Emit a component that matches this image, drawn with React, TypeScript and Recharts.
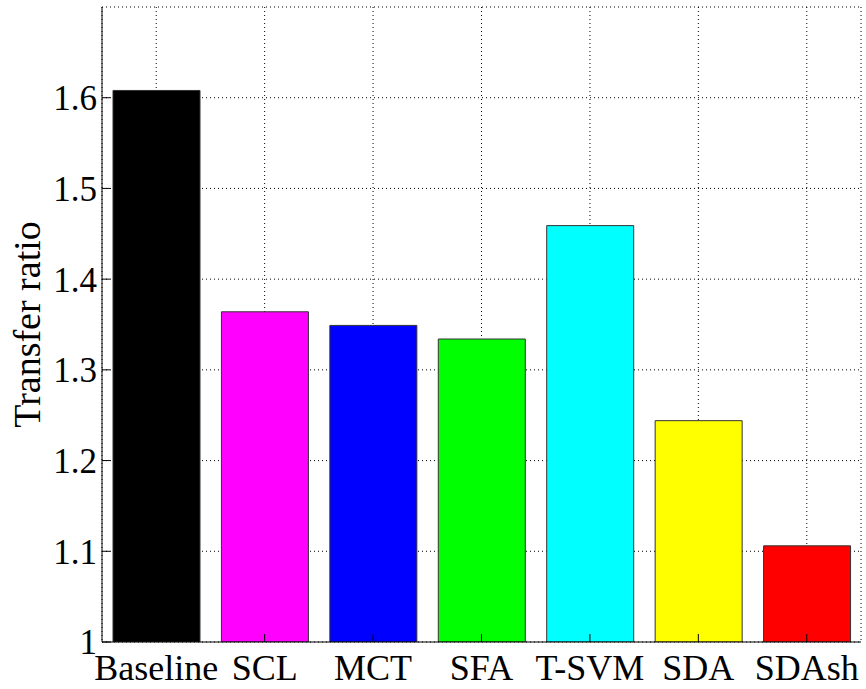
import React from 'react';
import { BarChart, Bar, XAxis, YAxis, CartesianGrid, Cell } from 'recharts';

const methods = ['Baseline', 'SCL', 'MCT', 'SFA', 'T-SVM', 'SDA', 'SDAsh'];
const ratios = [1.608, 1.364, 1.349, 1.334, 1.459, 1.244, 1.106];
const barColors = ['#000000', '#ff00ff', '#0000ff', '#00ff00', '#00ffff', '#ffff00', '#ff0000'];
const yTicks = [1, 1.1, 1.2, 1.3, 1.4, 1.5, 1.6];

const family = '"Liberation Serif", "Times New Roman", serif';
const yFont = { fontFamily: family, fontSize: 35, fill: '#000' };
const xFont = { fontFamily: family, fontSize: 36, fill: '#000' };

const YLabel = (props: any) => {
  const vb = props.viewBox || { x: 0, y: 0, height: 0 };
  const x = vb.x + 40;
  const y = vb.y + vb.height / 2;
  return (
    <text
      x={x}
      y={y}
      transform={`rotate(-90 ${x} ${y})`}
      textAnchor="middle"
      style={{ fontFamily: family, fontSize: 38, fill: '#000' }}
    >
      Transfer ratio
    </text>
  );
};

const App = () => {
  const data = methods.map((name, i) => ({ name, value: ratios[i] }));

  return (
    <div style={{ position: 'absolute', left: 0, top: 0, background: '#fff' }}>
      <BarChart width={866} height={689} data={data} margin={{ top: 7, right: 5, left: 0, bottom: 0 }} barSize={87}>
        <CartesianGrid stroke="#000" strokeDasharray="1 3" />
        <XAxis
          dataKey="name"
          height={47}
          tickSize={-8}
          tickMargin={20}
          tick={xFont}
          stroke="#000"
          interval={0}
        />
        <XAxis xAxisId="top" dataKey="name" orientation="top" height={0} tickSize={-8} tick={false} stroke="#000" />
        <YAxis
          domain={[1, 1.7]}
          ticks={yTicks}
          width={102}
          tickSize={-8}
          tickMargin={13}
          tick={yFont}
          stroke="#000"
          tickFormatter={(v) => String(v)}
          label={{ content: YLabel }}
          allowDataOverflow
        />
        <YAxis yAxisId="right" orientation="right" domain={[1, 1.7]} ticks={yTicks} width={0} tickSize={-8} tick={false} stroke="#000" />
        <Bar dataKey="value" stroke="#333" strokeWidth={1} isAnimationActive={false}>
          {data.map((d, i) => (
            <Cell key={d.name} fill={barColors[i]} />
          ))}
        </Bar>
      </BarChart>
    </div>
  );
};

export default App;
